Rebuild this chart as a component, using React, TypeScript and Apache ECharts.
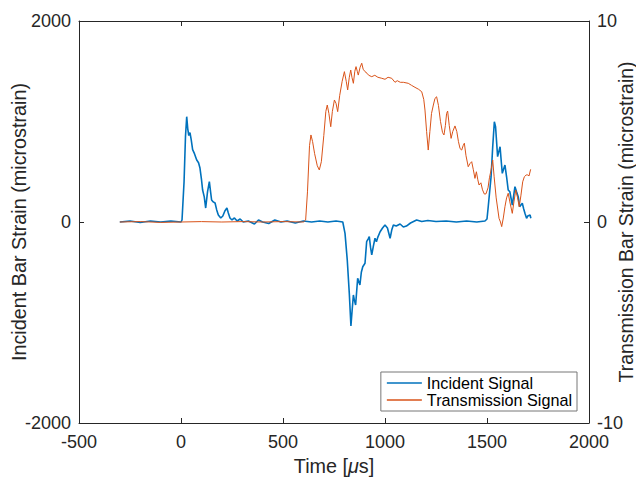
import React, { useEffect, useRef } from "react";
import * as echarts from "echarts";

const FONT = "'Liberation Sans', Arial, Helvetica, sans-serif";
const AXIS_COLOR = "#262626";

const xTicks = { min: -500, max: 2000, interval: 500 };
const leftTicks = { min: -2000, max: 2000, interval: 2000 };
const rightTicks = { min: -10, max: 10, interval: 10 };

const seriesNames = ["Incident Signal", "Transmission Signal"];

// Incident bar strain (microstrain) vs time (µs)
const incidentTime = [
  -300, -250, -200, -150, -100, -50, 0, 5, 15, 22, 28, 33, 38, 44, 50, 57, 66, 77, 86, 93, 100, 106, 114, 121,
  130, 139, 145, 150, 158, 167, 175, 183, 195, 205, 215, 225, 232, 240, 250, 262, 275, 290, 305, 330, 360, 380,
  400, 430, 460, 490, 520, 560, 600, 640, 680, 720, 760, 793, 804, 815, 825, 833, 839, 845, 850, 856, 866, 877,
  884, 891, 902, 910, 917, 923, 929, 935, 943, 951, 958, 965, 976, 988, 1000, 1012, 1025, 1033, 1041, 1055,
  1074, 1090, 1105, 1125, 1155, 1180, 1210, 1250, 1300, 1350, 1400, 1450, 1490, 1500, 1506, 1520, 1528, 1536,
  1542, 1552, 1558, 1564, 1570, 1575, 1582, 1588, 1596, 1604, 1612, 1624, 1637, 1645, 1653, 1660, 1673, 1680,
  1686, 1694, 1700, 1711, 1715,
];
const incidentStrain = [
  0, 10, -5, 10, 0, 10, 0, 20, 400, 850, 1048, 930, 860, 890, 820, 720, 680, 617, 590, 537, 430, 318, 250, 139,
  300, 401, 300, 219, 200, 189, 120, 70, 40, 60, 110, 139, 90, 40, 20, 40, 10, 30, 0, 10, -20, 20,
  0, -15, 20, 0, 10, -10, 10, 0, 10, 0, 10, 0, -113, -378, -710, -1035, -876, -726, -780, -826, -560, -627,
  -500, -445, -411, -196, -170, -146, -250, -328, -240, -162, -196, -150, -97, -60, -30, -60, -162, -80, -30, -40,
  -20, -50, -40, -10, 20, 5, 15, 5, 10, 0, 10, 0, 10, 30, 152, 451, 749, 998,
  948, 650, 700, 749, 600, 484, 530, 567, 450, 318, 301, 169, 351, 300, 252, 152, 186, 130,
  87, 37, 60, 70, 37,
];

// Transmission bar strain (microstrain) vs time (µs)
const transTime = [
  -300, -200, -100, 0, 100, 200, 300, 400, 500, 600, 611, 620, 630, 637, 645, 655, 668, 678, 688, 700, 710, 717,
  725, 734, 742, 752, 760, 768, 778, 790, 801, 810, 817, 825, 832, 838, 845, 852, 858, 864, 869, 878, 886, 893,
  902, 912, 920, 935, 950, 965, 984, 1000, 1015, 1033, 1049, 1060, 1075, 1090, 1114, 1130, 1147, 1165, 1180,
  1190, 1196, 1204, 1212, 1220, 1228, 1237, 1245, 1253, 1262, 1272, 1282, 1289, 1296, 1302, 1307, 1315, 1324,
  1332, 1343, 1352, 1360, 1368, 1376, 1383, 1389, 1397, 1408, 1416, 1425, 1433, 1441, 1448, 1455, 1461, 1470,
  1478, 1487, 1495, 1505, 1512, 1520, 1528, 1535, 1545, 1559, 1566, 1572, 1580, 1588, 1596, 1604, 1612, 1624,
  1632, 1641, 1650, 1658, 1666, 1675, 1683, 1692, 1700, 1706, 1714,
];
const transStrain = [
  0, 0.02, -0.02, 0, 0.02, 0, 0.02, 0, 0.02, 0, 0.1, 1.5, 3.8, 4.33, 4.0, 3.4, 2.8, 2.59, 3.0, 4.3, 5.5, 5.82,
  5.4, 4.74, 5.5, 6.07, 5.9, 5.49, 6.3, 7.0, 7.48, 7.0, 6.57, 7.2, 7.56, 7.2, 6.9, 7.5, 7.73, 7.5, 7.31, 7.7, 7.9, 7.6,
  7.48, 7.4, 7.3, 7.23, 7.3, 7.2, 7.15, 7.1, 7.2, 7.15, 6.95, 7.03, 6.95, 6.95, 6.9, 6.8, 6.7, 6.6, 6.48,
  6.1, 5.57, 4.5, 3.58, 4.5, 5.4, 5.82, 6.15, 6.23, 5.8, 5.0, 4.45, 4.33, 4.8, 5.4, 5.52, 4.8, 4.16,
  4.5, 4.78, 4.5, 4.0, 3.65, 3.58, 3.8, 3.92, 3.3, 2.75, 2.9, 3.0, 2.6, 2.17, 2.5, 2.1, 1.84, 1.95,
  1.6, 1.39, 1.4, 1.7, 2.2, 2.59, 3.08, 2.25, 1.2, 0.18, 0.0, -0.23, 0.2, 0.76, 1.2, 1.43, 1.0, 0.43,
  1.0, 1.59, 1.2, 0.76, 1.3, 2.0, 2.25, 2.34, 2.34, 2.29, 2.62,
];

export default function App() {
  const ref = useRef<HTMLDivElement>(null);
  useEffect(() => {
    if (!ref.current) return;
    const chart = echarts.init(ref.current, undefined, { renderer: "svg" });
    const plain = (v: number) => String(v);
    const tickLabel = { color: AXIS_COLOR, fontSize: 18, fontFamily: FONT, formatter: plain };
    const axisLine = { show: true, onZero: false, lineStyle: { color: AXIS_COLOR, width: 1 } };
    const axisTick = { show: true, inside: true, length: 5, lineStyle: { color: AXIS_COLOR, width: 1 } };
    chart.setOption({
      animation: false,
      backgroundColor: "#ffffff",
      grid: { left: 79, right: 47, top: 21, bottom: 55, containLabel: false, outerBoundsMode: "none" },
      xAxis: [
        {
          type: "value",
          ...xTicks,
          position: "bottom",
          axisLine,
          axisTick,
          splitLine: { show: false },
          axisLabel: { ...tickLabel, margin: 10 },
          name: "Time [{it|μ}s]",
          nameLocation: "middle",
          nameGap: 31,
          nameTextStyle: {
            color: AXIS_COLOR,
            fontSize: 19.8,
            fontFamily: FONT,
            rich: { it: { fontStyle: "italic", fontSize: 19.8, fontFamily: FONT, color: AXIS_COLOR } },
          },
        },
        {
          type: "value",
          ...xTicks,
          position: "top",
          axisLine,
          axisTick,
          splitLine: { show: false },
          axisLabel: { show: false },
        },
      ],
      yAxis: [
        {
          type: "value",
          ...leftTicks,
          position: "left",
          axisLine,
          axisTick,
          splitLine: { show: false },
          axisLabel: { ...tickLabel, margin: 8 },
          name: "Incident Bar Strain (microstrain)",
          nameLocation: "middle",
          nameMoveOverlap: false,
          nameGap: 50,
          nameTextStyle: { color: AXIS_COLOR, fontSize: 19.8, fontFamily: FONT },
        },
        {
          type: "value",
          ...rightTicks,
          position: "right",
          axisLine,
          axisTick,
          splitLine: { show: false },
          axisLabel: { ...tickLabel, margin: 8 },
          name: "Transmission Bar Strain (microstrain)",
          nameLocation: "middle",
          nameMoveOverlap: false,
          nameGap: 27,
          nameRotate: 90,
          nameTextStyle: { color: AXIS_COLOR, fontSize: 19.5, fontFamily: FONT, lineHeight: 20 },
        },
      ],
      legend: {
        data: seriesNames,
        orient: "vertical",
        right: 59,
        bottom: 67,
        icon: "rect",
        itemWidth: 35,
        itemHeight: 1.5,
        itemGap: 1,
        padding: [3, 5, 3, 6],
        borderColor: "#777777",
        borderWidth: 1,
        backgroundColor: "#ffffff",
        textStyle: { color: "#000000", fontSize: 16.2, fontFamily: FONT },
      },
      series: [
        {
          name: seriesNames[0],
          type: "line",
          xAxisIndex: 0,
          yAxisIndex: 0,
          showSymbol: false,
          symbol: "none",
          data: incidentTime.map((t, i) => [t, incidentStrain[i]]),
          lineStyle: { color: "#0072BD", width: 1.6 },
          itemStyle: { color: "#0072BD" },
        },
        {
          name: seriesNames[1],
          type: "line",
          xAxisIndex: 0,
          yAxisIndex: 1,
          showSymbol: false,
          symbol: "none",
          data: transTime.map((t, i) => [t, transStrain[i]]),
          lineStyle: { color: "#D95319", width: 1 },
          itemStyle: { color: "#D95319" },
        },
      ],
    });
    return () => chart.dispose();
  }, []);
  return (
    <div
      ref={ref}
      style={{ position: "fixed", left: 0, top: 0, width: 636, height: 478, background: "#fff" }}
    />
  );
}
